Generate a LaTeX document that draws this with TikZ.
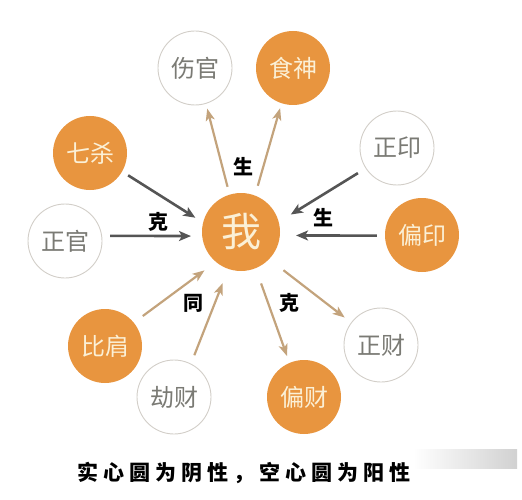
\documentclass[tikz,border=0pt]{standalone}
\usepackage{fontspec}
\newfontfamily\cjk{Noto Sans CJK SC}
\newfontfamily\cjkcap[LetterSpace=24]{Noto Sans CJK SC}
\usepackage{tikz}
\usetikzlibrary{arrows.meta}

\definecolor{yinorange}{HTML}{E8953F}
\definecolor{yintext}{HTML}{FBF0D6}
\definecolor{yangline}{HTML}{D2CEC8}
\definecolor{yangtext}{HTML}{7A7A74}
\definecolor{kegray}{HTML}{555555}
\definecolor{shengtan}{HTML}{C3A37C}

\tikzset{
	yinnode/.style={shape=circle, fill=yinorange, text=yintext, minimum size=74pt, inner sep=0pt, font=\cjk\fontsize{24}{24}\selectfont},
	yangnode/.style={shape=circle, draw=yangline, line width=0.9pt, fill=white, text=yangtext, minimum size=74pt, inner sep=0pt, font=\cjk\fontsize{24}{24}\selectfont},
	kearrow/.style={draw=kegray, line width=2.6pt, -{Stealth[length=12pt,width=10pt,inset=3pt]}},
	shengarrow/.style={draw=shengtan, line width=2.2pt, -{Stealth[length=12pt,width=9pt,inset=3pt]}},
	relation/.style={font=\cjk\bfseries\fontsize{20}{20}\selectfont, text=black}
}

\begin{document}
\begin{tikzpicture}[x=1pt,y=-1pt]
	\useasboundingbox (0,0) rectangle (522,500);
	\path (241,232) node (wo) [yinnode, minimum size=78pt, font=\cjk\fontsize{40}{40}\selectfont] {我}
		  (195,68) node (shangguan) [yangnode] {伤官}
		  (293,68) node (shishen) [yinnode] {食神}
		  (90,153) node (qisha) [yinnode] {七杀}
		  (65,241) node (zhengguan) [yangnode] {正官}
		  (397,148) node (zhengyin) [yangnode] {正印}
		  (422,235) node (pianyin) [yinnode] {偏印}
		  (105,346) node (bijian) [yinnode] {比肩}
		  (174,397) node (jiecai) [yangnode] {劫财}
		  (304,397) node (piancai) [yinnode] {偏财}
		  (381,345) node (zhengcai) [yangnode] {正财};
	% sheng: wo -> shishang
	\draw[shengarrow, shorten <=8pt, shorten >=5pt] (wo.107) -- (shangguan.287);
	\draw[shengarrow, shorten <=10pt, shorten >=5pt] (wo.69) -- (shishen.252);
	% ke: guansha -> wo
	\draw[kearrow, shorten <=7pt, shorten >=9pt] (qisha.-30) -- (wo.166);
	\draw[kearrow, shorten <=8pt, shorten >=11pt] (zhengguan.8) -- (wo.186);
	% sheng: yin -> wo
	\draw[kearrow, shorten <=9pt, shorten >=14pt] (zhengyin.213) -- (wo.15);
	\draw[kearrow, shorten <=8pt, shorten >=16pt] (pianyin.181) -- (wo.-5);
	% tong: bijie -> wo
	\draw[shengarrow, shorten <=11pt, shorten >=14pt] (bijian.39) -- (wo.230);
	\draw[shengarrow, shorten <=9pt, shorten >=15pt] (jiecai.63) -- (wo.251);
	% ke: wo -> cai
	\draw[shengarrow, shorten <=16pt, shorten >=7pt] (wo.292) -- (piancai.113);
	\draw[shengarrow, shorten <=18pt, shorten >=8pt] (wo.316) -- (zhengcai.143);
	% labels
	\node (shenglabel) [relation] at (243,167) {生};
	\node (kelabel) [relation] at (158,222) {克};
	\node (yinlabel) [relation] at (323,218) {生};
	\node (tonglabel) [relation] at (193,303) {同};
	\node (cailabel) [relation] at (289,303) {克};
	\node (caption) [font=\cjkcap\bfseries\fontsize{21}{21}\selectfont] at (244,473) {实心圆为阴性，空心圆为阳性};
	\shade[left color=white, right color=black!18] (413,449) rectangle (517,468);
\end{tikzpicture}
\end{document}
